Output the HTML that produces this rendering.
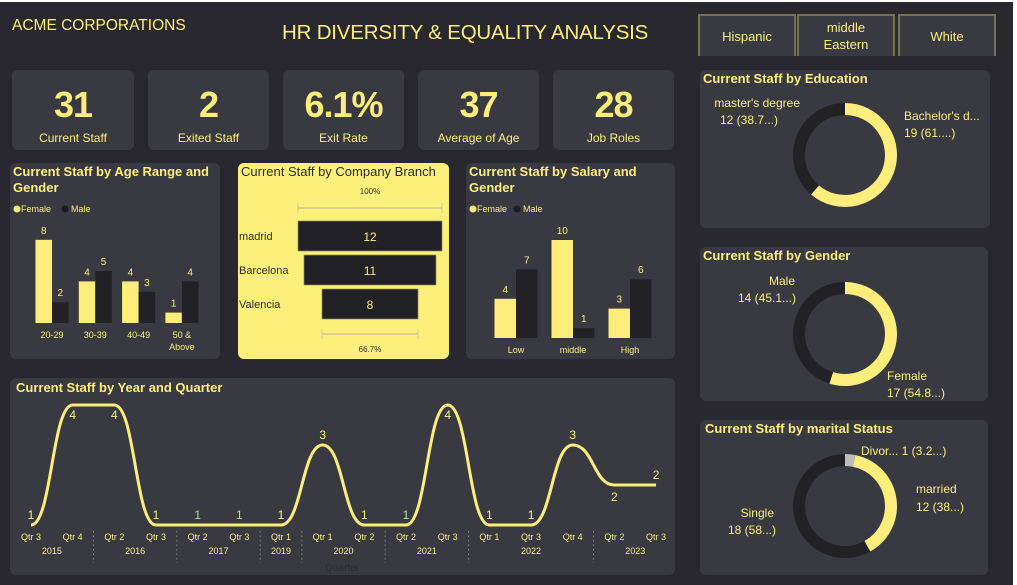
<!DOCTYPE html>
<html><head><meta charset="utf-8">
<style>
*{margin:0;padding:0;box-sizing:border-box}
body{width:1017px;height:585px;background:#28282e;font-family:"Liberation Sans",sans-serif;color:#fdee7c;position:relative;overflow:hidden}
.abs{position:absolute}
.panel{position:absolute;background:#393941;border-radius:6px}
.kpi .num{position:absolute;left:0;right:0;top:14px;text-align:center;font-size:36px;font-weight:bold;color:#fdee7c;letter-spacing:-1px}
.kpi .lbl{position:absolute;left:0;right:0;top:61px;text-align:center;font-size:12px;color:#fdee7c}
.ptitle{position:absolute;left:3px;top:1px;font-size:13px;font-weight:bold;color:#fdee7c;line-height:16px}
.btn{position:absolute;top:14px;height:42px;width:98px;border:2px solid #77724f;border-bottom:none;background:#393941;font-size:13px;text-align:center;display:flex;align-items:center;justify-content:center;line-height:17px}
svg text{font-family:"Liberation Sans",sans-serif}
</style></head><body>
<div class="abs" style="left:0;top:0;width:1017px;height:2px;background:#fff"></div>
<div class="abs" style="left:1013px;top:0;width:4px;height:585px;background:#fff"></div>
<div class="abs" style="left:12px;top:17px;font-size:15.5px">ACME CORPORATIONS</div>
<div class="abs" style="left:282px;top:21px;font-size:20.5px;letter-spacing:-0.2px">HR DIVERSITY &amp; EQUALITY ANALYSIS</div>

<div class="btn" style="left:698px">Hispanic</div>
<div class="btn" style="left:797px">middle<br>Eastern</div>
<div class="btn" style="left:898px">White</div>

<div class="panel kpi" style="left:12px;top:70px;width:122px;height:80px"><div class="num">31</div><div class="lbl">Current Staff</div></div>
<div class="panel kpi" style="left:148px;top:70px;width:121px;height:80px"><div class="num">2</div><div class="lbl">Exited Staff</div></div>
<div class="panel kpi" style="left:283px;top:70px;width:121px;height:80px"><div class="num">6.1%</div><div class="lbl">Exit Rate</div></div>
<div class="panel kpi" style="left:418px;top:70px;width:121px;height:80px"><div class="num">37</div><div class="lbl">Average of Age</div></div>
<div class="panel kpi" style="left:553px;top:70px;width:121px;height:80px"><div class="num">28</div><div class="lbl">Job Roles</div></div>

<div class="panel" style="left:10px;top:163px;width:210px;height:196px">
<div class="ptitle">Current Staff by Age Range and<br>Gender</div>
<svg id="ageSvg" class="abs" style="left:0;top:0" width="210" height="196"></svg></div>

<div class="panel" style="left:238px;top:163px;width:211px;height:196px;background:#fdf07a">
<div class="ptitle" style="color:#2a2a30;font-weight:normal">Current Staff by Company Branch</div>
<svg id="funSvg" class="abs" style="left:0;top:0" width="211" height="196"></svg></div>

<div class="panel" style="left:466px;top:163px;width:209px;height:196px">
<div class="ptitle">Current Staff by Salary and<br>Gender</div>
<svg id="salSvg" class="abs" style="left:0;top:0" width="209" height="196"></svg></div>

<div class="panel" style="left:10px;top:378px;width:665px;height:197px">
<div class="ptitle" style="left:6px;top:2px">Current Staff by Year and Quarter</div>
<svg id="lineSvg" class="abs" style="left:0;top:0" width="665" height="197"></svg></div>

<div class="panel" style="left:700px;top:70px;width:290px;height:158px">
<div class="ptitle">Current Staff by Education</div>
<svg id="eduSvg" class="abs" style="left:0;top:0" width="290" height="158"></svg></div>
<div class="panel" style="left:700px;top:247px;width:288px;height:154px">
<div class="ptitle">Current Staff by Gender</div>
<svg id="genSvg" class="abs" style="left:0;top:0" width="288" height="154"></svg></div>
<div class="panel" style="left:700px;top:420px;width:288px;height:155px">
<div class="ptitle" style="left:5px">Current Staff by marital Status</div>
<svg id="marSvg" class="abs" style="left:0;top:0" width="288" height="155"></svg></div>

<script>
const NS="http://www.w3.org/2000/svg";
const Y="#fdee7c",D="#212126";
function mk(p,t,a){const e=document.createElementNS(NS,t);for(const k in a)e.setAttribute(k,a[k]);p.appendChild(e);return e;}
function tx(p,x,y,s,size,fill,anchor){const e=mk(p,"text",{x:x,y:y,"font-size":size,fill:fill,"text-anchor":anchor||"middle"});e.textContent=s;return e;}

// Age chart data
const ageCats=["20-29","30-39","40-49","50 &|Above"];
const ageFemale=[8,4,4,1];
const ageMale=[2,5,3,4];
// Salary chart data
const salCats=["Low","middle","High"];
const salFemale=[4,10,3];
const salMale=[7,1,6];
// Funnel data
const branches=["madrid","Barcelona","Valencia"];
const branchVals=[12,11,8];
// Line data
const qLabels=["Qtr 3","Qtr 4","Qtr 2","Qtr 3","Qtr 2","Qtr 3","Qtr 1","Qtr 1","Qtr 2","Qtr 2","Qtr 3","Qtr 1","Qtr 3","Qtr 4","Qtr 2","Qtr 3"];
const qValues=[1,4,4,1,1,1,1,3,1,1,4,1,1,3,2,2];
const years=["2015","2016","2017","2019","2020","2021","2022","2023"];
const yearSpan=[2,2,2,1,2,2,3,2];
// Donut data
const eduCats=["Bachelor's d...","master's degree"];
const eduVals=[19,12];
const genCats=["Female","Male"];
const genVals=[17,14];
const marCats=["Divor...","married","Single"];
const marVals=[1,12,18];

function barChart(id,cats,f,m,x0,step,bw,base,unit,nameP){
  const s=document.getElementById(id);
  let c=mk(s,"circle",{cx:7,cy:46,r:3.5,fill:Y});
  
  
  tx(s,11,49,"Female",9,Y,"start");
  c=mk(s,"circle",{cx:id=="ageSvg"?55:51,cy:46,r:3.5,fill:"#1c1c20"});
  
  
  tx(s,id=="ageSvg"?61:57,49,"Male",9,Y,"start");
  const ys=v=>base-v*unit;
  cats.forEach((cat,i)=>{
    const cx=x0+i*step;
    let r=mk(s,"rect",{x:cx-bw,y:ys(f[i]),width:bw,height:base-ys(f[i]),fill:Y});
    
    
    r=mk(s,"rect",{x:cx,y:ys(m[i]),width:bw,height:base-ys(m[i]),fill:D});
    
    
    tx(s,cx-bw/2,ys(f[i])-6,String(f[i]),10,Y);
    tx(s,cx+bw/2,ys(m[i])-6,String(m[i]),10,Y);
    cat.split("|").forEach((l,j)=>tx(s,cx,base+15+j*12,l,9,Y));
  });
}
barChart("ageSvg",ageCats,ageFemale,ageMale,42,43.3,16.5,160,10.4,"age");
barChart("salSvg",salCats,salFemale,salMale,50,57,21.5,175,9.8,"salary");

(function(){
  const s=document.getElementById("funSvg");
  const cx=132,u=12,max=Math.max(...branchVals);
  tx(s,cx,31,"100%",8,"#333");
  mk(s,"line",{x1:cx-max*u/2,x2:cx+max*u/2,y1:45,y2:45,stroke:"#cfc78e","stroke-width":1.5});
  mk(s,"line",{x1:cx-max*u/2,x2:cx-max*u/2,y1:40,y2:50,stroke:"#cfc78e"});
  mk(s,"line",{x1:cx+max*u/2,x2:cx+max*u/2,y1:40,y2:50,stroke:"#cfc78e"});
  branches.forEach((b,i)=>{
    const w=branchVals[i]*u,y=58+i*34;
    const r=mk(s,"rect",{x:cx-w/2,y:y,width:w,height:30,fill:D,stroke:"#8d875a","stroke-width":0.7});
    
    
    tx(s,cx,y+20,String(branchVals[i]),12,Y);
    tx(s,1,y+19,b,11,"#2a2a30","start");
  });
  const last=branchVals[branchVals.length-1]*u;
  mk(s,"line",{x1:cx-last/2,x2:cx+last/2,y1:171,y2:171,stroke:"#cfc78e","stroke-width":1.5});
  mk(s,"line",{x1:cx-last/2,x2:cx-last/2,y1:166,y2:176,stroke:"#cfc78e"});
  mk(s,"line",{x1:cx+last/2,x2:cx+last/2,y1:166,y2:176,stroke:"#cfc78e"});
  tx(s,cx,189,(branchVals[branchVals.length-1]/max*100).toFixed(1)+"%",8,"#333");
})();

(function(){
  const s=document.getElementById("lineSvg");
  const x0=21,step=41.67,xs=i=>x0+i*step,ys=v=>187-v*40;
  let d="M"+xs(0)+","+ys(qValues[0]);
  for(let i=1;i<qValues.length;i++){
    const a=xs(i-1),b=xs(i),k=step*0.5;
    d+=` C${a+k},${ys(qValues[i-1])} ${b-k},${ys(qValues[i])} ${b},${ys(qValues[i])}`;
  }
  const p=mk(s,"path",{d:d,fill:"none",stroke:Y,"stroke-width":3});
  
  
  qValues.forEach((v,i)=>{
    let ly=ys(v)-6;
    if(v==4) ly=ys(v)+14;
    if(i==14) ly=ys(v)+16;
    tx(s,xs(i),ly,String(v),12,v==1&&i!=0&&i!=3&&i!=8&&i!=11&&i!=12&&i!=6?"#a6e39a":Y);
    tx(s,xs(i),162,qLabels[i],9,Y);
  });
  let idx=0;
  years.forEach((yr,j)=>{
    const a=xs(idx),b=xs(idx+yearSpan[j]-1);
    tx(s,(a+b)/2,176,yr,9,Y);
    idx+=yearSpan[j];
    if(j<years.length-1){mk(s,"line",{x1:xs(idx)-step/2,x2:xs(idx)-step/2,y1:153,y2:185,stroke:"#888","stroke-dasharray":"1.5,3"});}
  });
  tx(s,332,193,"Quarter",10,"#2a2a30");
})();

function donut(id,vals,colors,cx,cy,labels,nameP){
  const s=document.getElementById(id);
  const tot=vals.reduce((a,b)=>a+b,0),R=46,w=12;
  let ang=0;
  vals.forEach((v,i)=>{
    const a0=ang,a1=ang+v/tot*2*Math.PI;ang=a1;
    const pt=a=>[cx+R*Math.sin(a),cy-R*Math.cos(a)];
    const [x0,y0]=pt(a0),[x1,y1]=pt(a1);
    const p=mk(s,"path",{d:`M${x0},${y0} A${R},${R} 0 ${a1-a0>Math.PI?1:0} 1 ${x1},${y1}`,fill:"none",stroke:colors[i],"stroke-width":w});
    
    
  });
  labels.forEach(l=>{tx(s,l[0],l[1],l[2],12,Y,l[3]);});
}
donut("eduSvg",eduVals,[Y,D],145,85,[[204,50,eduCats[0],"start"],[204,67,eduVals[0]+" (61....)","start"],[100,37,eduCats[1],"end"],[78,54,eduVals[1]+" (38.7...)","end"]],"education");
donut("genSvg",genVals,[Y,D],145,87,[[95,38,genCats[1],"end"],[96,55,genVals[1]+" (45.1...)","end"],[187,133,genCats[0],"start"],[187,150,genVals[0]+" (54.8...)","start"]],"gender");
donut("marSvg",marVals,["#bdbdbd",Y,D],145,86,[[161,35,marCats[0]+" "+marVals[0]+" (3.2...)","start"],[216,73,marCats[1],"start"],[216,91,marVals[1]+" (38...)","start"],[74,97,marCats[2],"end"],[76,114,marVals[2]+" (58...)","end"]],"marital");
</script>
</body></html>
